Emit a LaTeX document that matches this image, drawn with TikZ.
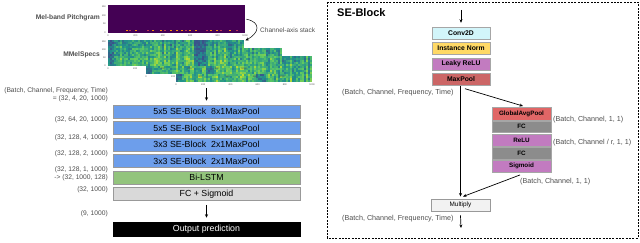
\documentclass[tikz,border=0pt]{standalone}
\usepackage{fontspec}
\setmainfont{Liberation Sans}
\usetikzlibrary{arrows.meta}
\definecolor{vd1}{HTML}{440154}
\definecolor{vd2}{HTML}{3B528B}
\definecolor{vd3}{HTML}{21918C}
\definecolor{vd4}{HTML}{5EC962}
\definecolor{vd5}{HTML}{E5E419}
\definecolor{blk}{HTML}{6D9EEB}
\definecolor{grn}{HTML}{93C47D}
\definecolor{lgr}{HTML}{D9D9D9}
\definecolor{cyn}{HTML}{D2F5FA}
\definecolor{yel}{HTML}{FFD966}
\definecolor{pur}{HTML}{C27BC0}
\definecolor{redA}{HTML}{CC6666}
\definecolor{redB}{HTML}{E06666}
\definecolor{fcg}{HTML}{8C8C8C}
\definecolor{lab}{HTML}{4D4D4D}
\definecolor{orA}{HTML}{F98E09}
\definecolor{orB}{HTML}{BC3754}
\newcommand\setvir[1]{%
  \pgfmathsetmacro\myS{3*#1}%
  \pgfmathtruncatemacro\myStage{min(2,floor(\myS))}%
  \pgfmathtruncatemacro\myPct{min(100,100*(\myS-\myStage))}%
  \ifcase\myStage \colorlet{cc}{vd3!\myPct!vd2}\or \colorlet{cc}{vd4!\myPct!vd3}\or \colorlet{cc}{vd5!\myPct!vd4}\fi}
\newcommand\spectro[4]{%
  \foreach \i in {0,...,67}{%
    \pgfmathsetmacro\myCb{(\i<3 || (\i>=#3 && \i<=#4)) ? 0.1+0.12*rnd : 0.3+0.38*rnd}%
    \foreach \j in {0,...,12}{%
      \pgfmathsetmacro\myV{max(0,min(0.999,\myCb+0.36*(rnd-0.5)+(\j>8?0.07:0)-(\j<3?0.08:0)))}%
      \setvir{\myV}%
      \fill[cc] ({#1+2*\i},{#2+2*\j}) rectangle ++(2.05,2.05);
    }}%
  \foreach \k/\t in {0/0,1/200,2/400,3/600,4/800,5/1000}{%
    \node[ticklab] at ({#1+27.2*\k},{#2+28.5}) {\t};}}
\tikzset{
  arr/.style={-{Stealth[length=3.5pt,width=3pt]}, line width=0.7pt, black},
  mainblk/.style={draw=black!40, line width=0.5pt, minimum width=187pt, minimum height=13pt, inner sep=0, font=\fontsize{8.8}{10}\selectfont},
  seblk/.style={draw=black!35, line width=0.4pt, minimum width=58pt, minimum height=12pt, inner sep=0, font=\bfseries\fontsize{6.8}{8}\selectfont},
  sqblk/.style={draw=black!35, line width=0.4pt, minimum width=59pt, minimum height=11.5pt, inner sep=0, font=\bfseries\fontsize{6.3}{7}\selectfont},
  llab/.style={text=lab, inner sep=0, font=\fontsize{6.7}{7.6}\selectfont, anchor=east, align=right},
  rlab/.style={text=lab, inner sep=0, font=\fontsize{7.2}{8}\selectfont, anchor=west},
  ticklab/.style={text=black!70, inner sep=0, font=\fontsize{2.4}{2.6}\selectfont},
  speclab/.style={text=lab, inner sep=0, anchor=east, font=\bfseries\fontsize{6.7}{8}\selectfont},
  area/.style={inner sep=0, minimum width=136pt, minimum height=26pt, anchor=north west}
}
\begin{document}
\begin{tikzpicture}[x=1pt,y=-1pt]
\useasboundingbox (0,0) rectangle (640,243);
\pgfmathsetseed{4242}
% ---------- Pitchgram ----------
\fill[vd1] (108,5) rectangle (245,33);
\node[area, minimum width=137pt, minimum height=28pt] (pg) at (108,5) {};
\foreach \x/\c in {126/orA,129/orB,135/orA,147/orB,152/orA,160/orA,164/orB,170/orA,176/orA,181/orA,185/orB,189/orA,195/orA,206/orB,210/orA,216/orA,220/orB,229/orA,236/orB}{
  \fill[\c] (\x,30) rectangle ++(2,0.7);}
\foreach \k/\t in {0/0,1/200,2/400,3/600,4/800,5/1000}{
  \node[ticklab] at ({108+27.4*\k},35.5) {\t};}
\foreach \yy/\t in {7/150,15.5/100,24/50,32.5/0}{
  \node[ticklab, anchor=east] at (106,\yy) {\t};}
\node[speclab] (pglab) at (100,18) {Mel-band Pitchgram};
% ---------- MMelSpecs ----------
\spectro{176}{56}{40}{44}
\node[area] (S3) at (176,56) {};
\spectro{146}{48}{30}{33}
\node[area] (S2) at (146,48) {};
\spectro{108}{40}{43}{48}
\node[area] (S1) at (108,40) {};
\foreach \yy/\t in {41.5/150,49.5/100,58/50,66/0}{
  \node[ticklab, anchor=east] at (106,\yy) {\t};}
\node[speclab] (mmlab) at (100,55) {MMelSpecs};
\draw[arr, line width=0.5pt] ([xshift=1pt]pg.east) .. controls ([xshift=16pt,yshift=-3pt]pg.east) and ([xshift=15pt,yshift=7pt]S1.north east) .. ([xshift=1pt,yshift=-0.5pt]S1.north east);
\node[rlab, font=\fontsize{6.5}{8}\selectfont] (cas) at (260,30) {Channel-axis stack};
% ---------- main column ----------
\node[mainblk, fill=blk] (b1) at (206.5,111.5) {5x5 SE-Block~~8x1MaxPool};
\node[mainblk, fill=blk] (b2) at (206.5,128) {5x5 SE-Block~~5x1MaxPool};
\node[mainblk, fill=blk] (b3) at (206.5,144.5) {3x3 SE-Block~~2x1MaxPool};
\node[mainblk, fill=blk] (b4) at (206.5,161) {3x3 SE-Block~~2x1MaxPool};
\node[mainblk, fill=grn] (lstm) at (206.5,177.5) {Bi-LSTM};
\node[mainblk, fill=lgr] (fc) at (206.5,194) {FC + Sigmoid};
\node[mainblk, fill=black, draw=black, text=white, minimum height=14pt] (out) at (206.5,229) {Output prediction};
\draw[arr] ([yshift=-6pt]S3.south -| b1.north) -- ([yshift=4pt]b1.north);
\draw[arr] ([yshift=-4pt]fc.south) -- ([yshift=4pt]out.north);
\node[llab] (l0) at (108,95) {(Batch, Channel, Frequency, Time)\\= (32, 4, 20, 1000)};
\node[llab] (l1) at (108,120) {(32, 64, 20, 1000)};
\node[llab] (l2) at (108,138) {(32, 128, 4, 1000)};
\node[llab] (l3) at (108,154) {(32, 128, 2, 1000)};
\node[llab] (l4) at (108,174) {(32, 128, 1, 1000)\\-> (32, 1000, 128)};
\node[llab] (l5) at (108,189.5) {(32, 1000)};
\node[llab] (l6) at (108,214) {(9, 1000)};
% ---------- SE-Block panel ----------
\draw[line width=0.9pt, dash pattern=on 2pt off 1.3pt] (327,2) rectangle (638,238);
\node[anchor=west, inner sep=0, font=\bfseries\fontsize{11}{12}\selectfont] (title) at (337,13) {SE-Block};
\coordinate (sein) at (461,10);
\node[seblk, fill=cyn] (conv) at (461,33) {Conv2D};
\node[seblk, fill=yel] (inorm) at (461,48.5) {Instance Norm};
\node[seblk, fill=pur] (lrelu) at (461,64) {Leaky ReLU};
\node[seblk, fill=redA] (mp) at (461,79.5) {MaxPool};
\node[sqblk, fill=redB, minimum height=12.5pt] (gap) at (521.5,113.5) {GlobalAvgPool};
\node[sqblk, fill=fcg] (fc1) at (521.5,126.8) {FC};
\node[sqblk, fill=pur] (relu) at (521.5,140) {ReLU};
\node[sqblk, fill=fcg] (fc2) at (521.5,153) {FC};
\node[sqblk, fill=pur] (sig) at (521.5,166) {Sigmoid};
\node[draw=black!40, line width=0.4pt, fill=black!5, minimum width=59pt, minimum height=12.5pt, inner sep=0, font=\fontsize{6.4}{7}\selectfont] (mul) at (460.5,205) {Multiply};
\coordinate (seout) at (461,228);
\draw[arr] (sein) -- ([yshift=4pt]conv.north);
\draw[arr] (mp.south -| mul.north) -- ([yshift=2pt]mul.north);
\draw[arr] ([xshift=4pt,yshift=-3pt]mp.south) -- ([xshift=1.5pt,yshift=1pt]gap.north);
\draw[arr] ([xshift=-1.5pt,yshift=-3pt]sig.south) -- ([xshift=2.5pt,yshift=2pt]mul.north);
\draw[arr] ([yshift=-4pt]mul.south) -- (seout);
\node[rlab] (r1) at (342,93) {(Batch, Channel, Frequency, Time)};
\node[rlab] (r2) at (553,120) {(Batch, Channel, 1, 1)};
\node[rlab] (r3) at (553,143) {(Batch, Channel / r, 1, 1)};
\node[rlab] (r4) at (520,182) {(Batch, Channel, 1, 1)};
\node[rlab] (r5) at (342,219) {(Batch, Channel, Frequency, Time)};
\end{tikzpicture}
\end{document}
